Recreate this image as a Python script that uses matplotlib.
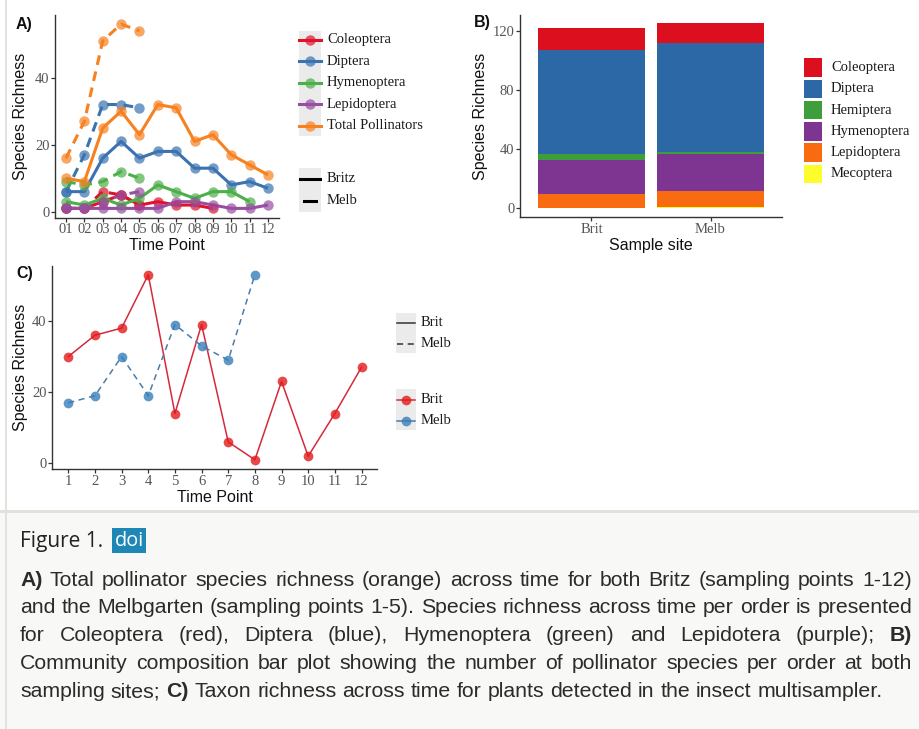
import numpy as np
import matplotlib

matplotlib.use("Agg")
import matplotlib.pyplot as plt
from matplotlib.patches import Rectangle
from matplotlib.lines import Line2D

W, H = 919, 729
SERIF = "Liberation Serif"
SANS = "Liberation Sans"

# ---- panel A: pollinator richness per time point ----
time_a = ["01", "02", "03", "04", "05", "06", "07", "08", "09", "10", "11", "12"]
orders_a = ["Coleoptera", "Diptera", "Hymenoptera", "Lepidoptera", "Total Pollinators"]
colors_a = ["#e0112b", "#3a73b0", "#4daf4a", "#984ea3", "#f7801f"]

britz_coleoptera = [1, 1, 3, 5, 2, 3, 2, 2, 1]
britz_diptera = [6, 6, 16, 21, 16, 18, 18, 13, 13, 8, 9, 7]
britz_hymenoptera = [3, 2, 4, 2, 4, 8, 6, 4, 6, 6, 3]
britz_lepidoptera = [1, 1, 1, 1, 1, 1, 3, 3, 2, 1, 1, 2]
britz_total = [10, 9, 25, 30, 23, 32, 31, 21, 23, 17, 14, 11]

melb_coleoptera = [1, 1, 6, 5, 2]
melb_diptera = [6, 17, 32, 32, 31]
melb_hymenoptera = [9, 8, 9, 12, 10]
melb_lepidoptera = [1, 1, 3, 5, 6]
melb_total = [16, 27, 51, 56, 54]

# ---- panel B: community composition ----
sites_b = ["Brit", "Melb"]
orders_b = ["Coleoptera", "Diptera", "Hemiptera", "Hymenoptera", "Lepidoptera", "Mecoptera"]
colors_b = ["#dc0f1f", "#2d68a6", "#3f9e3c", "#7e3591", "#f96b11", "#fdfd2e"]
coleoptera_b = [15, 13]
diptera_b = [70, 74]
hemiptera_b = [4, 1]
hymenoptera_b = [23, 25]
lepidoptera_b = [10, 11]
mecoptera_b = [0, 1]

# ---- panel C: plant taxon richness ----
time_c = ["1", "2", "3", "4", "5", "6", "7", "8", "9", "10", "11", "12"]
brit_c = [30, 36, 38, 53, 14, 39, 6, 1, 23, 2, 14, 27]
melb_c = [17, 19, 30, 19, 39, 33, 29, 53]

caption_lines = [
    "A) Total pollinator species richness (orange) across time for both Britz (sampling points 1-12)",
    "and the Melbgarten (sampling points 1-5). Species richness across time per order is presented",
    "for Coleoptera (red), Diptera (blue), Hymenoptera (green) and Lepidotera (purple); B)",
    "Community composition bar plot showing the number of pollinator species per order at both",
    "sampling sites; C) Taxon richness across time for plants detected in the insect multisampler.",
]

plt.rcParams["font.family"] = SERIF

fig = plt.figure(figsize=(W / 100, H / 100), dpi=100)
fig.patch.set_facecolor("white")


def fx(x):
    return x / W


def fy(y):
    return 1 - y / H


def px_axes(left, top, right, bottom):
    return fig.add_axes([left / W, 1 - bottom / H, (right - left) / W, (bottom - top) / H])


def style_axes(ax):
    for s in ("top", "right"):
        ax.spines[s].set_visible(False)
    for s in ("left", "bottom"):
        ax.spines[s].set_linewidth(1.0)
        ax.spines[s].set_color("#333333")
    ax.tick_params(length=3, width=0.9, color="#333333", labelcolor="#555555",
                   labelsize=10.5, pad=1)
    ax.patch.set_alpha(0)


def fig_rect(x0, y0, x1, y1, color, z=0):
    fig.add_artist(Rectangle((fx(x0), fy(y1)), (x1 - x0) / W, (y1 - y0) / H,
                             transform=fig.transFigure, facecolor=color,
                             edgecolor="none", zorder=z))


def fig_line(x0, x1, y, **kw):
    fig.add_artist(Line2D([fx(x0), fx(x1)], [fy(y), fy(y)],
                          transform=fig.transFigure, **kw))


def fig_point(x, y, **kw):
    fig.add_artist(Line2D([fx(x)], [fy(y)], transform=fig.transFigure,
                          linestyle="none", marker="o", **kw))


def legend_text(x, y, s):
    fig.text(fx(x), fy(y), s, fontsize=10.5, family=SERIF, va="center",
             ha="left", color="#1a1a1a")


def axis_titles(ax, ylab_xy, xlab, xlab_xy):
    ax.set_ylabel("Species Richness", family=SANS, fontsize=11.5, color="#111111")
    ax.yaxis.set_label_coords(fx(ylab_xy[0]), fy(ylab_xy[1]), transform=fig.transFigure)
    ax.set_xlabel(xlab, family=SANS, fontsize=11.5, color="#111111")
    ax.xaxis.set_label_coords(fx(xlab_xy[0]), fy(xlab_xy[1]), transform=fig.transFigure)
    ax.xaxis.label.set_va("center")
    ax.yaxis.label.set_va("center")


# ---- caption background ----
fig_rect(0, 513, W, H, "#f8f8f6")
fig_rect(0, 510, W, 513, "#e2e2dc")
fig_rect(5, 0, 7, H, "#e2e2dc")

# ---- panel A ----
axA = px_axes(55, 14.9, 279, 217.6)
style_axes(axA)
xa = np.arange(1, len(time_a) + 1)
britz_a = [britz_coleoptera, britz_diptera, britz_hymenoptera, britz_lepidoptera, britz_total]
melb_a = [melb_coleoptera, melb_diptera, melb_hymenoptera, melb_lepidoptera, melb_total]
for vals_b, vals_m, col in zip(britz_a, melb_a, colors_a):
    axA.plot(xa[:len(vals_b)], vals_b, color=col, lw=2.2, solid_capstyle="butt", zorder=2)
    axA.plot(xa[:len(vals_m)], vals_m, color=col, lw=2.2, dashes=(3.2, 2.2), zorder=2)
for vals_b, vals_m, col in zip(britz_a, melb_a, colors_a):
    axA.plot(xa[:len(vals_b)], vals_b, "o", color=col, ms=7.5, alpha=0.7, mec="none", zorder=3)
    axA.plot(xa[:len(vals_m)], vals_m, "o", color=col, ms=7.5, alpha=0.7, mec="none", zorder=3)
axA.set_xlim(0.4, 12.6)
axA.set_ylim(-1.75, 58.75)
axA.set_xticks(xa)
axA.set_xticklabels(time_a)
axA.set_yticks([0, 20, 40])
axis_titles(axA, (21, 116), "Time Point", (167, 246))
fig.text(fx(16), fy(24), "A)", family=SANS, fontweight="bold", fontsize=11.5,
         va="center", ha="left", color="#111111")

# legend A
fig_rect(299, 31, 321, 136, "#ebebeb")
for i, (name, col) in enumerate(zip(orders_a, colors_a)):
    yy = 40 + i * 21.4
    fig_line(299, 321, yy, color=col, lw=2.2)
    fig_point(310, yy, color=col, ms=7.5, alpha=0.7, mec="none")
    legend_text(327, yy, name)
fig_rect(299, 168, 321, 212, "#ebebeb")
fig_line(300, 320, 179, color="black", lw=2.2)
fig_line(304, 316, 201, color="black", lw=2.2)
legend_text(327, 179, "Britz")
legend_text(327, 201, "Melb")

# ---- panel B ----
axB = px_axes(520, 15, 782, 217.5)
style_axes(axB)
xb = np.arange(1, len(sites_b) + 1)
stack_b = [mecoptera_b, lepidoptera_b, hymenoptera_b, hemiptera_b, diptera_b, coleoptera_b]
stack_cols = colors_b[::-1]
bottom = np.zeros(len(sites_b))
for vals, col in zip(stack_b, stack_cols):
    axB.bar(xb, vals, width=0.9, bottom=bottom, color=col, edgecolor="none")
    bottom = bottom + np.array(vals)
axB.set_xlim(0.4, 2.6)
axB.set_ylim(-6.2, 130.7)
axB.set_xticks(xb)
axB.set_xticklabels(sites_b)
axB.set_yticks([0, 40, 80, 120])
axis_titles(axB, (481, 116), "Sample site", (651, 245))
fig.text(fx(474), fy(22), "B)", family=SANS, fontweight="bold", fontsize=11.5,
         va="center", ha="left", color="#111111")

for i, (name, col) in enumerate(zip(orders_b, colors_b)):
    yy = 67.5 + i * 21.3
    fig_rect(803, yy - 10, 823, yy + 10, "white", z=1)
    fig_rect(804, yy - 9.3, 822, yy + 9.3, col, z=2)
    legend_text(831, yy, name)

# ---- panel C ----
axC = px_axes(52.3, 265.5, 377.5, 469)
style_axes(axC)
xc = np.arange(1, len(time_c) + 1)
axC.plot(xc[:len(brit_c)], brit_c, color="#d42a3c", lw=1.1, zorder=2)
axC.plot(xc[:len(melb_c)], melb_c, color="#4d7ba8", lw=1.1, dashes=(4, 3), zorder=2)
axC.plot(xc[:len(brit_c)], brit_c, "o", color="#e41a1c", ms=7, alpha=0.8, mec="none", zorder=3)
axC.plot(xc[:len(melb_c)], melb_c, "o", color="#377eb8", ms=7, alpha=0.8, mec="none", zorder=3)
axC.set_xlim(0.4, 12.6)
axC.set_ylim(-1.6, 55.6)
axC.set_xticks(xc)
axC.set_xticklabels(time_c)
axC.set_yticks([0, 20, 40])
axis_titles(axC, (21, 367), "Time Point", (215, 497))
fig.text(fx(16), fy(274), "C)", family=SANS, fontweight="bold", fontsize=11.5,
         va="center", ha="left", color="#111111")

fig_rect(396, 313, 416, 353, "#ebebeb")
fig_line(397, 415, 323, color="#333333", lw=1.1)
fig_line(397, 415, 343.5, color="#333333", lw=1.1, dashes=(4, 3))
legend_text(421, 323, "Brit")
legend_text(421, 343.5, "Melb")
fig_rect(396, 389, 416, 430, "#ebebeb")
fig_line(397, 415, 399.5, color="#d42a3c", lw=1.1)
fig_point(406, 399.5, color="#e41a1c", ms=7, alpha=0.8, mec="none")
fig_line(397, 415, 420.5, color="#4d7ba8", lw=1.1)
fig_point(406, 420.5, color="#377eb8", ms=7, alpha=0.8, mec="none")
legend_text(421, 399.5, "Brit")
legend_text(421, 420.5, "Melb")

# ---- caption ----
renderer = fig.canvas.get_renderer()


def fit_size(text, family, target, weight="normal"):
    t = fig.text(0, 0, text, fontsize=12, family=family, fontweight=weight)
    w = t.get_window_extent(renderer).width
    t.remove()
    return 12 * target / w


fig_size = fit_size("Figure 1.", "Open Sans", 83)
fig.text(fx(20), fy(547), "Figure 1.", family="Open Sans", fontsize=fig_size,
         va="baseline", ha="left", color="#222222")
fig_rect(112, 528, 146, 553, "#1f87b5", z=1)
fig.text(fx(129), fy(540.5), "doi", family="Open Sans", fontsize=fig_size * 0.95,
         va="center", ha="center", color="white", zorder=3)

body_size = fit_size(caption_lines[-1], SANS, 866)
x_left, x_right = 20, 912
for li, line in enumerate(caption_lines):
    base = 585.5 + li * 27.9
    words = line.split(" ")
    texts = []
    for w in words:
        bold = w in ("A)", "B)", "C)")
        texts.append(fig.text(0, fy(base), w, fontsize=body_size, family=SANS,
                              fontweight="bold" if bold else "normal",
                              va="baseline", ha="left", color="#2b2b2b"))
    widths = [t.get_window_extent(renderer).width for t in texts]
    if li < len(caption_lines) - 1:
        gap = (x_right - x_left - sum(widths)) / (len(words) - 1)
    else:
        gap = body_size * 100 / 72 * 0.278
    xpos = x_left
    for t, wd in zip(texts, widths):
        t.set_x(fx(xpos))
        xpos += wd + gap

fig.savefig("out.png", dpi=100)
